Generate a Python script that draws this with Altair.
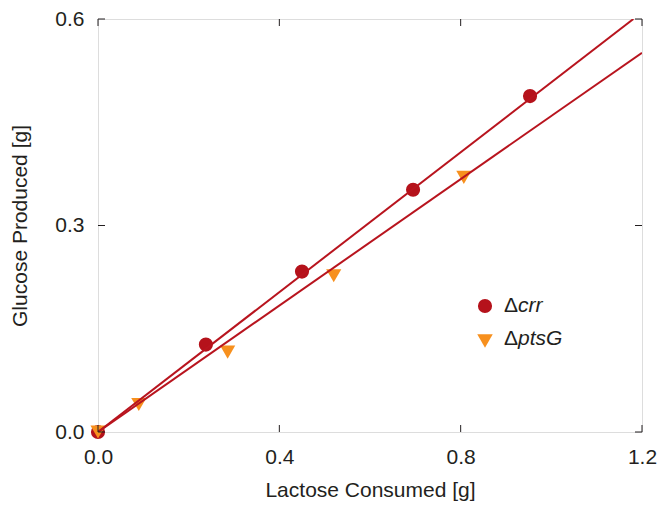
import altair as alt
import pandas as pd

# data
crr_x = [0.0, 0.238, 0.450, 0.695, 0.953]
crr_y = [0.0, 0.127, 0.233, 0.352, 0.488]
pts_x = [0.0, 0.090, 0.286, 0.520, 0.807]
pts_y = [0.0, 0.040, 0.116, 0.227, 0.370]
crr_fit_x = [0.0, 1.181]
crr_fit_y = [0.0, 0.600]
pts_fit_x = [0.0, 1.2]
pts_fit_y = [0.0, 0.551]
x_ticks = [0.0, 0.4, 0.8, 1.2]
y_ticks = [0.0, 0.3, 0.6]
series = ["crr", "ptsG"]

W, H = 544, 413
FONT = "Liberation Sans"
RED = "#b5121b"
ORANGE = "#f7901e"
LINE = "#b8141e"
INK = "#231f20"
FS = 21

xs = alt.Scale(domain=[0, 1.2], nice=False, zero=False)
ys = alt.Scale(domain=[0, 0.6], nice=False, zero=False)

crr_df = pd.DataFrame({"x": crr_x, "y": crr_y})
pts_df = pd.DataFrame({"x": pts_x, "y": pts_y})
crr_fit = pd.DataFrame({"x": crr_fit_x, "y": crr_fit_y})
pts_fit = pd.DataFrame({"x": pts_fit_x, "y": pts_fit_y})

xaxis = alt.Axis(values=x_ticks, format=".1f", tickSize=0, domain=False, grid=False,
                 labelFlush=False, labelOverlap=False,
                 labelFont=FONT, labelFontSize=FS, labelColor=INK, labelPadding=14,
                 title="Lactose Consumed [g]", titleFont=FONT, titleFontSize=FS,
                 titleFontWeight="normal", titleColor=INK, titlePadding=12)
yaxis = alt.Axis(values=y_ticks, format=".1f", tickSize=0, domain=False, grid=False,
                 labelFlush=False, labelOverlap=False,
                 labelFont=FONT, labelFontSize=FS, labelColor=INK, labelPadding=14,
                 title="Glucose Produced [g]", titleFont=FONT, titleFontSize=FS,
                 titleFontWeight="normal", titleColor=INK, titlePadding=24)

base_pts = alt.Chart(crr_df).mark_point(filled=True, shape="circle", size=200, opacity=1,
                                        color=RED, clip=False).encode(
    x=alt.X("x:Q", scale=xs, axis=xaxis),
    y=alt.Y("y:Q", scale=ys, axis=yaxis),
)
tri_pts = alt.Chart(pts_df).mark_point(filled=True, shape="triangle-down", size=230, opacity=1,
                                       color=ORANGE, clip=False).encode(
    x=alt.X("x:Q", scale=xs), y=alt.Y("y:Q", scale=ys))
l1 = alt.Chart(crr_fit).mark_line(color=LINE, strokeWidth=2, clip=True).encode(
    x=alt.X("x:Q", scale=xs), y=alt.Y("y:Q", scale=ys))
l2 = alt.Chart(pts_fit).mark_line(color=LINE, strokeWidth=2, clip=True).encode(
    x=alt.X("x:Q", scale=xs), y=alt.Y("y:Q", scale=ys))

xt = pd.DataFrame({"v": x_ticks})
yt = pd.DataFrame({"v": y_ticks})
tick_style = dict(color=INK, strokeWidth=1)
xb = alt.Chart(xt).mark_rule(**tick_style).encode(
    x=alt.X("v:Q", scale=xs), y=alt.value(H), y2=alt.value(H - 7))
xtp = alt.Chart(xt).mark_rule(**tick_style).encode(
    x=alt.X("v:Q", scale=xs), y=alt.value(0), y2=alt.value(7))
yl = alt.Chart(yt).mark_rule(**tick_style).encode(
    y=alt.Y("v:Q", scale=ys), x=alt.value(0), x2=alt.value(7))
yr = alt.Chart(yt).mark_rule(**tick_style).encode(
    y=alt.Y("v:Q", scale=ys), x=alt.value(W), x2=alt.value(W - 7))

# manual legend
leg = pd.DataFrame({"s": series})
LX, LY1, LY2 = 387, 287, 320
lg1 = alt.Chart(leg).transform_filter(alt.datum.s == series[0]).mark_point(
    filled=True, shape="circle", size=200, opacity=1, color=RED).encode(
    x=alt.value(LX), y=alt.value(LY1))
lg2 = alt.Chart(leg).transform_filter(alt.datum.s == series[1]).mark_point(
    filled=True, shape="triangle-down", size=240, opacity=1, color=ORANGE).encode(
    x=alt.value(LX), y=alt.value(LY2 + 2))
txt = dict(font=FONT, fontSize=FS, color=INK, baseline="middle", align="left")
d1 = alt.Chart(leg).transform_filter(alt.datum.s == series[0]).mark_text(text="Δ", **txt).encode(
    x=alt.value(LX + 19), y=alt.value(LY1))
t1 = alt.Chart(leg).transform_filter(alt.datum.s == series[0]).mark_text(fontStyle="italic", **txt).encode(
    x=alt.value(LX + 33), y=alt.value(LY1), text="s:N")
d2 = alt.Chart(leg).transform_filter(alt.datum.s == series[1]).mark_text(text="Δ", **txt).encode(
    x=alt.value(LX + 19), y=alt.value(LY2))
t2 = alt.Chart(leg).transform_filter(alt.datum.s == series[1]).mark_text(fontStyle="italic", **txt).encode(
    x=alt.value(LX + 33), y=alt.value(LY2), text="s:N")

chart = alt.layer(base_pts, tri_pts, l1, l2, xb, xtp, yl, yr, lg1, lg2, d1, t1, d2, t2).properties(
    width=W, height=H,
    autosize=alt.AutoSizeParams(type="none"),
    padding={"left": 90, "top": 11, "right": 15, "bottom": 70},
).configure_view(stroke=INK, strokeWidth=1.2).configure(background="white")

chart.save("out.html", embed_options={"renderer": "svg", "actions": False})
